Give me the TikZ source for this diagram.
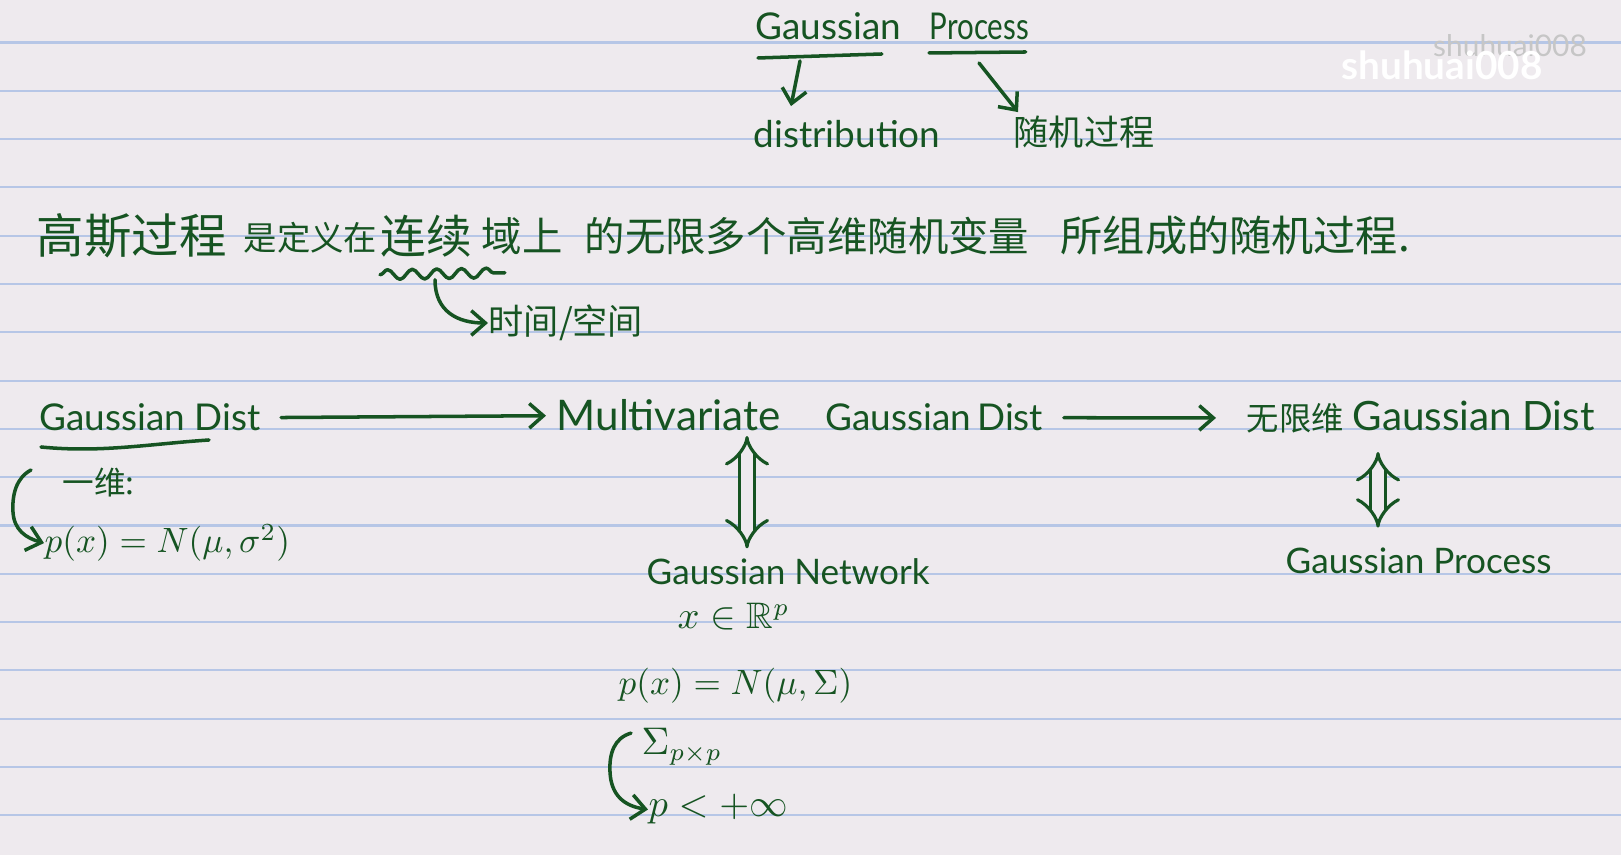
\documentclass[tikz,border=0pt]{standalone}
\definecolor{InkGreen}{RGB}{22, 84, 34}
\definecolor{PaperPink}{RGB}{238, 234, 238}
\definecolor{RuleBlue}{RGB}{182, 198, 230}
\usepackage{fontspec}
\setmainfont{Lato}
\newfontfamily\cjk{Noto Sans CJK SC}
\usepackage{amsmath, amssymb}
\usepackage{tikz}
\usetikzlibrary{arrows.meta, calc, decorations.pathmorphing}

\begin{document}
\begin{tikzpicture}[x=0.1mm, y=-0.1mm,
    ink/.style={text=InkGreen, inner sep=0pt, anchor=base west},
    lat/.style={ink, font=\fontsize{10.5}{12}\selectfont},
    eq/.style={ink, font=\fontsize{10}{12}\selectfont},
    han/.style={text=InkGreen, inner sep=0pt, anchor=west, font=\cjk\fontsize{12}{14}\selectfont},
    hanS/.style={han, font=\cjk\fontsize{10}{12}\selectfont},
    pen/.style={draw=InkGreen, line width=1pt, line cap=round, line join=round},
    arr/.style={pen, -{Straight Barb[length=4pt, width=7pt]}},
    dbl/.style={draw=InkGreen, line width=0.9pt, double=PaperPink, double distance=3.5pt, {Implies}-{Implies}},
    rule/.style={draw=RuleBlue, line width=0.6pt}]

    % Paper
    \useasboundingbox (0,0) rectangle (1621,855);
    \fill[PaperPink] (0,0) rectangle (1621,855);
    \foreach \k in {0,...,16}
      \draw[rule] (0,{42.5+48.3*\k}) -- (1621,{42.5+48.3*\k});

    % Nodes
    \node[lat] (gauss) at (755,40) {Gaussian};
    \node[lat] (proc) at (929,40) {\scalebox{0.8}[1]{Process}};
    \node[lat] (distr) at (753,148) {distribution};
    \node[hanS] (suiji) at (1013,132) {随机过程};

    \node[han, font=\cjk\fontsize{13.5}{15}\selectfont] (l1) at (36,236) {高斯过程};
    \node[han, font=\cjk\fontsize{9.5}{11}\selectfont] (l2) at (243,238) {是定义在};
    \node[han, font=\cjk\fontsize{13}{15}\selectfont] (l3) at (380,236) {连续};
    \node[han, font=\cjk\fontsize{11.5}{13}\selectfont] (l4) at (481,236) {域上};
    \node[han, font=\cjk\fontsize{11.5}{13}\selectfont] (l5) at (584,236) {的无限多个高维随机变量};
    \node[han] (l6) at (1060,236) {所组成的随机过程.};
    \node[hanS] (tm) at (488,323) {时间/空间};

    \node[lat] (gd) at (39,431) {Gaussian Dist};
    \node[lat, font=\fontsize{12}{14}\selectfont] (mv) at (556,431) {Multivariate};
    \node[lat] (mg) at (825,431) {Gaussian\,Dist};
    \node[hanS, font=\cjk\fontsize{9.2}{11}\selectfont] (wx) at (1246,418) {无限维};
    \node[lat, font=\fontsize{11.5}{13}\selectfont] (wg) at (1352,431) {Gaussian Dist};

    \node[hanS, font=\cjk\fontsize{9}{11}\selectfont] (yw) at (62,483) {一维:};
    \node[eq] (px) at (44,553) {$p(x)=N(\mu,\sigma^2)$};

    \node[lat, font=\fontsize{10}{12}\selectfont] (gn) at (646,585) {Gaussian Network};
    \node[eq, font=\fontsize{10.5}{12}\selectfont] (xr) at (677,629) {$x\in\mathbb{R}^p$};
    \node[eq] (pn) at (618,695) {$p(x)=N(\mu,\Sigma)$};
    \node[eq, font=\fontsize{10.5}{12}\selectfont] (sg) at (641,755) {$\Sigma_{p\times p}$};
    \node[eq, font=\fontsize{10.5}{12}\selectfont] (pl) at (648,817) {$p<+\infty$};
    \node[lat, font=\fontsize{10}{12}\selectfont] (gp) at (1285,574) {Gaussian Process};

    \node[text=gray!45, font=\fontsize{8.5}{10}\selectfont] (wm2) at (1510,46) {shuhuai008};
    \node[text=white, font=\bfseries\fontsize{11}{13}\selectfont] (wm) at (1442,65) {shuhuai008};

    % Connectors
    \draw[pen] ($(gauss.south west)+(3,17)$) -- ($(gauss.south east)+(-20,13)$);
    \draw[pen] ($(proc.south west)+(0,12)$) -- ($(proc.south east)+(-4,11)$);
    \draw[arr] ($(gauss.south west)+(45,20)$) -- ($(distr.north west)+(38,-14)$);
    \draw[arr] ($(proc.south west)+(50,22)$) -- ($(suiji.north west)+(5,-3)$);

    \draw[pen, decorate, decoration={snake, amplitude=1.4pt, segment length=7pt}]
      ($(l3.south west)+(0,17)$) -- ($(l3.south east)+(32,15)$);
    \draw[arr] ($(l3.south west)+(55,22)$) .. controls +(0,32) and +(-30,0) .. (tm.west);

    \draw[pen] ($(gd.south west)+(2,15)$) .. controls +(60,6) and +(-60,4) .. ($(gd.south west)+(170,8)$);
    \draw[arr, shorten <=2mm, shorten >=1mm] (gd.east) -- (mv.west);
    \draw[arr, shorten <=2mm, shorten >=3mm] (mg.east) -- (wx.west);

    \draw[arr] ($(yw.west)+(-31,-13)$) .. controls (16,478) and (12,495) .. (13,512)
      .. controls (14,530) and (26,538) .. (px.west);
    \draw[arr] ($(sg.west)+(-10,-14)$) .. controls (614,738) and (609,754) .. (610,772)
      .. controls (611,795) and (624,806) .. (pl.west);

    \draw[dbl] ($(mv.south west)+(191,4)$) -- ($(gn.north west)+(101,-10)$);
    \draw[dbl] ($(wg.south west)+(26,20)$) -- ($(gp.north west)+(93,-20)$);
  \end{tikzpicture}
\end{document}
